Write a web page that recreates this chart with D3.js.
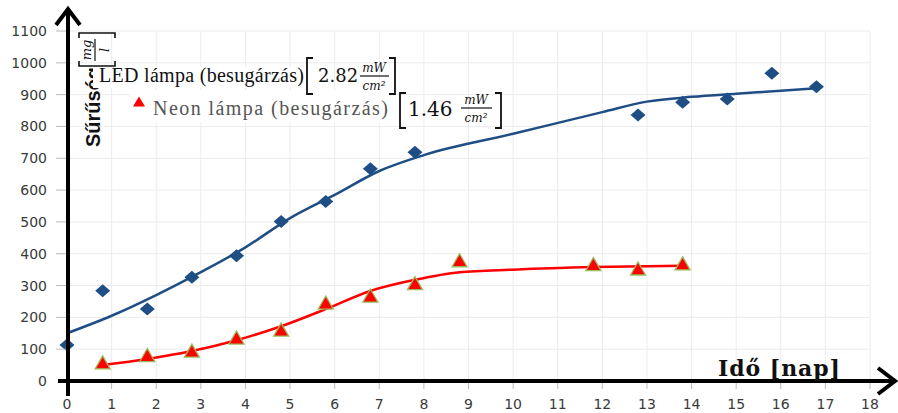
<!DOCTYPE html>
<html>
<head>
<meta charset="utf-8">
<script src="https://cdn.jsdelivr.net/npm/d3@7/dist/d3.min.js"></script>
<style>
  html, body { margin: 0; padding: 0; background: #fff; }
  svg { display: block; }
</style>
</head>
<body>
<div id="chart"></div>
<script>
// measured points (day, concentration mg/l)
var ledDays   = [0, 0.8, 1.8, 2.8, 3.8, 4.8, 5.8, 6.8, 7.8, 12.8, 13.8, 14.8, 15.8, 16.8];
var ledValues = [113, 284, 226, 326, 394, 501, 564, 667, 719, 836, 876, 886, 967, 925];

var neonDays   = [0.8, 1.8, 2.8, 3.8, 4.8, 5.8, 6.8, 7.8, 8.8, 11.8, 12.8, 13.8];
var neonValues = [57, 80, 94, 135, 160, 245, 267, 306, 378, 366, 352, 368];

// fitted curves
var ledTrendDays   = [0, 1, 2, 3, 4, 5, 6, 7, 8, 10, 12, 13, 14, 15, 16, 16.8];
var ledTrendValues = [150, 205, 270, 342, 420, 512, 585, 660, 710, 777, 845, 878, 893, 903, 912, 920];

var neonTrendDays   = [0.8, 1.8, 2.8, 3.8, 4.8, 5.8, 6.8, 7.8, 8.8, 10, 11.8, 13.8];
var neonTrendValues = [50, 69, 94, 128, 172, 226, 283, 318, 342, 350, 358, 362];

var xTicks = d3.range(0, 19);
var yTicks = d3.range(0, 1101, 100);

var width = 898, height = 413;
var svg, x, y;

createSVG();
createScales();
drawGrid();
drawTrends();
drawPoints();
drawYLabel();
drawLegend();
drawAxes();

function createSVG() {
  svg = d3.select("#chart").append("svg")
    .attr("width", width)
    .attr("height", height);
}

function createScales() {
  x = d3.scaleLinear().domain([0, 18]).range([67, 870]);
  y = d3.scaleLinear().domain([0, 1100]).range([381, 31]);
}

function drawGrid() {
  var g = svg.append("g");
  g.selectAll(".vgrid").data(xTicks.slice(1))
    .enter().append("line")
      .attr("x1", function(d) { return x(d); })
      .attr("x2", function(d) { return x(d); })
      .attr("y1", y(1100)).attr("y2", y(0))
      .attr("stroke", "#ececec").attr("stroke-width", 1);
  g.selectAll(".hgrid").data(yTicks.slice(1))
    .enter().append("line")
      .attr("x1", x(0)).attr("x2", x(18))
      .attr("y1", function(d) { return y(d); })
      .attr("y2", function(d) { return y(d); })
      .attr("stroke", "#ececec").attr("stroke-width", 1);
}

function drawTrends() {
  var line = d3.line()
    .x(function(d) { return x(d[0]); })
    .y(function(d) { return y(d[1]); })
    .curve(d3.curveMonotoneX);

  svg.append("path")
    .datum(d3.zip(ledTrendDays, ledTrendValues))
    .attr("d", line)
    .attr("fill", "none")
    .attr("stroke", "#1f4e85")
    .attr("stroke-width", 2.5);

  svg.append("path")
    .datum(d3.zip(neonTrendDays, neonTrendValues))
    .attr("d", line)
    .attr("fill", "none")
    .attr("stroke", "#ff0000")
    .attr("stroke-width", 2.5);
}

function drawPoints() {
  svg.selectAll(".led").data(d3.zip(ledDays, ledValues))
    .enter().append("path")
      .attr("transform", function(d) { return "translate(" + x(d[0]) + "," + y(d[1]) + ")"; })
      .attr("d", "M0,-6.5L7.5,0L0,6.5L-7.5,0Z")
      .attr("fill", "#1f4e85");

  svg.selectAll(".neon").data(d3.zip(neonDays, neonValues))
    .enter().append("path")
      .attr("transform", function(d) { return "translate(" + x(d[0]) + "," + y(d[1]) + ")"; })
      .attr("d", "M0,-7L7.5,6L-7.5,6Z")
      .attr("fill", "#ff0000")
      .attr("stroke", "#9bbb59")
      .attr("stroke-width", 1.3);
}

function drawYLabel() {
  var g = svg.append("g").attr("transform", "translate(100,147) rotate(-90)");
  g.append("text")
    .attr("x", 0).attr("y", 0)
    .attr("font-family", "Liberation Sans, Arial, sans-serif")
    .attr("font-weight", "bold")
    .attr("font-size", 20)
    .attr("fill", "#111")
    .text("Sűrűség");
  // [mg / l]
  g.append("path").attr("d", "M86,-21H81V15H86").attr("fill", "none").attr("stroke", "#111").attr("stroke-width", 1.6);
  g.append("path").attr("d", "M109,-21H114V15H109").attr("fill", "none").attr("stroke", "#111").attr("stroke-width", 1.6);
  g.append("text").attr("x", 97).attr("y", -9).attr("text-anchor", "middle")
    .attr("font-family", "DejaVu Serif, serif").attr("font-style", "italic").attr("font-size", 13)
    .attr("fill", "#111").text("mg");
  g.append("line").attr("x1", 86).attr("x2", 108).attr("y1", -5).attr("y2", -5)
    .attr("stroke", "#111").attr("stroke-width", 1.2);
  g.append("text").attr("x", 97).attr("y", 9).attr("text-anchor", "middle")
    .attr("font-family", "DejaVu Serif, serif").attr("font-style", "italic").attr("font-size", 13)
    .attr("fill", "#111").text("l");
}

function drawFraction(g, cx, lineY, x1, x2, size) {
  g.append("text").attr("x", cx).attr("y", lineY - 4).attr("text-anchor", "middle")
    .attr("font-family", "DejaVu Serif, serif").attr("font-style", "italic").attr("font-size", size)
    .attr("fill", "#111").text("mW");
  g.append("line").attr("x1", x1).attr("x2", x2).attr("y1", lineY).attr("y2", lineY)
    .attr("stroke", "#111").attr("stroke-width", 1.2);
  g.append("text").attr("x", cx).attr("y", lineY + size + 2).attr("text-anchor", "middle")
    .attr("font-family", "DejaVu Serif, serif").attr("font-style", "italic").attr("font-size", size)
    .attr("fill", "#111").text("cm²");
}

function drawBrackets(g, xl, xr, top, bottom) {
  g.append("path").attr("d", "M" + (xl + 6) + "," + top + "H" + xl + "V" + bottom + "H" + (xl + 6))
    .attr("fill", "none").attr("stroke", "#111").attr("stroke-width", 1.8);
  g.append("path").attr("d", "M" + (xr - 6) + "," + top + "H" + xr + "V" + bottom + "H" + (xr - 6))
    .attr("fill", "none").attr("stroke", "#111").attr("stroke-width", 1.8);
}

function drawLegend() {
  var g = svg.append("g");
  // white boxes behind the two legend rows
  g.append("rect").attr("x", 93).attr("y", 67).attr("width", 212).attr("height", 21).attr("fill", "#fff");
  g.append("rect").attr("x", 130).attr("y", 90).attr("width", 260).attr("height", 32).attr("fill", "#fff");

  // LED row
  g.append("text").attr("x", 99).attr("y", 82)
    .attr("font-family", "Liberation Serif, Times New Roman, serif").attr("font-size", 20)
    .attr("fill", "#111").attr("textLength", 205).attr("lengthAdjust", "spacing")
    .text("LED lámpa (besugárzás)");
  drawBrackets(g, 307, 395, 58, 94);
  g.append("text").attr("x", 318).attr("y", 82)
    .attr("font-family", "DejaVu Serif, serif").attr("font-size", 18)
    .attr("fill", "#111").text("2.82");
  drawFraction(g, 374, 76, 360, 389, 12);

  // Neon row
  g.append("path").attr("transform", "translate(139,102)")
    .attr("d", "M0,-5.5L6,4.5L-6,4.5Z").attr("fill", "#ff0000");
  g.append("text").attr("x", 153).attr("y", 115)
    .attr("font-family", "Liberation Serif, Times New Roman, serif").attr("font-size", 20)
    .attr("fill", "#555").attr("textLength", 235).attr("lengthAdjust", "spacing")
    .text("Neon lámpa (besugárzás)");
  drawBrackets(g, 400, 501, 93, 128);
  g.append("text").attr("x", 408).attr("y", 116)
    .attr("font-family", "DejaVu Serif, serif").attr("font-size", 20)
    .attr("fill", "#111").text("1.46");
  drawFraction(g, 476, 108, 461, 492, 12);
}

function drawAxes() {
  // tick labels
  svg.selectAll(".ylab").data(yTicks)
    .enter().append("text")
      .attr("x", 47)
      .attr("y", function(d) { return y(d) + 5; })
      .attr("text-anchor", "end")
      .attr("font-family", "DejaVu Sans, Verdana, sans-serif")
      .attr("font-size", 14)
      .attr("fill", "#3a3a3a")
      .text(function(d) { return d; });

  svg.selectAll(".xlab").data(xTicks)
    .enter().append("text")
      .attr("x", function(d) { return x(d); })
      .attr("y", 409)
      .attr("text-anchor", "middle")
      .attr("font-family", "DejaVu Sans, Verdana, sans-serif")
      .attr("font-size", 14)
      .attr("fill", "#3a3a3a")
      .text(function(d) { return d; });

  // small tick marks
  svg.selectAll(".xtick").data(xTicks.slice(1))
    .enter().append("line")
      .attr("x1", function(d) { return x(d); })
      .attr("x2", function(d) { return x(d); })
      .attr("y1", 383).attr("y2", 389)
      .attr("stroke", "#bbb");
  svg.selectAll(".ytick").data(yTicks.slice(1))
    .enter().append("line")
      .attr("x1", 56).attr("x2", 66)
      .attr("y1", function(d) { return y(d); })
      .attr("y2", function(d) { return y(d); })
      .attr("stroke", "#bbb");

  // thick arrows
  svg.append("line").attr("x1", 68).attr("x2", 68).attr("y1", 396).attr("y2", 10)
    .attr("stroke", "#000").attr("stroke-width", 4);
  svg.append("path").attr("d", "M56,25L68,9L80,25")
    .attr("fill", "none").attr("stroke", "#000").attr("stroke-width", 4);
  svg.append("line").attr("x1", 58).attr("x2", 894).attr("y1", 381).attr("y2", 381)
    .attr("stroke", "#000").attr("stroke-width", 4);
  svg.append("path").attr("d", "M878,368L895,381L878,394")
    .attr("fill", "none").attr("stroke", "#000").attr("stroke-width", 4);

  svg.append("text").attr("x", 718).attr("y", 376)
    .attr("font-family", "DejaVu Serif, serif").attr("font-weight", "bold")
    .attr("font-size", 22).attr("fill", "#111")
    .attr("textLength", 122).attr("lengthAdjust", "spacing")
    .text("Idő [nap]");
}
</script>
</body>
</html>
